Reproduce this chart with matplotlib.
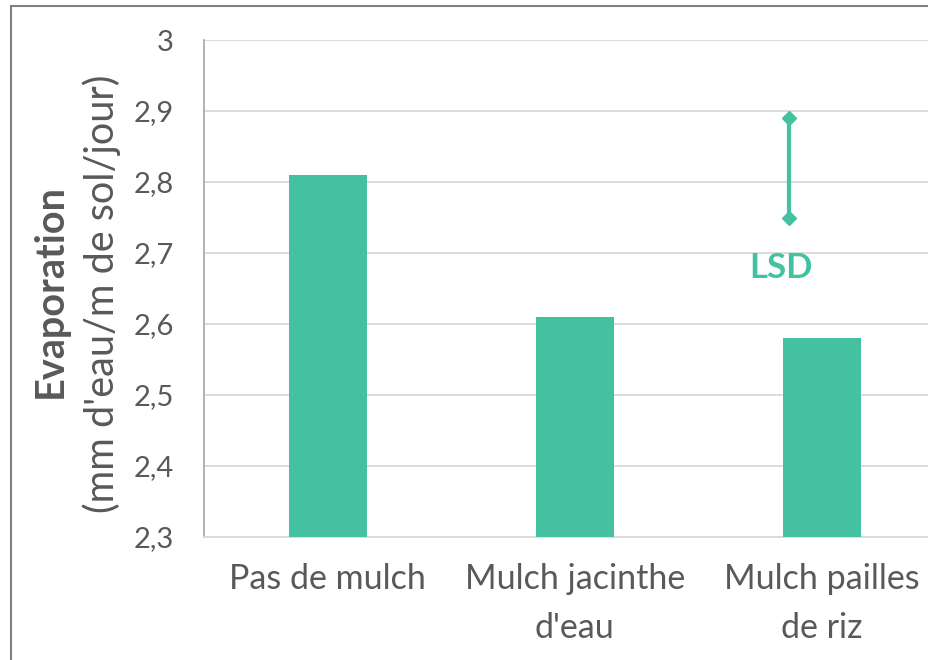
import matplotlib
matplotlib.use("Agg")
import matplotlib.pyplot as plt
from matplotlib.patches import Rectangle
from matplotlib.ticker import FuncFormatter

categories = ["Pas de mulch", "Mulch jacinthe\nd'eau", "Mulch pailles\nde riz"]
values = [2.81, 2.61, 2.58]
lsd_x = 1.87
lsd_low, lsd_high = 2.75, 2.89
yticks = [2.3, 2.4, 2.5, 2.6, 2.7, 2.8, 2.9, 3.0]

teal = "#43C1A0"
txt = "#595959"
plt.rcParams['font.family'] = ['Lato', 'DejaVu Sans']

W, H = 929, 660
fig = plt.figure(figsize=(W/100, H/100), dpi=100)
# frame border (right/bottom fall outside the image)
fig.patches.append(Rectangle((11/W, -0.05), 1.1, 1 - 6/H + 0.05, transform=fig.transFigure,
                             fill=False, edgecolor="#7F7F7F", linewidth=1.5))

ax_left, ax_right = 204.5/W, 945/W
ax_bottom, ax_top = 1 - 537/H, 1 - 40/H
ax = fig.add_axes([ax_left, ax_bottom, ax_right - ax_left, ax_top - ax_bottom])
ax.set_facecolor("none")

x = range(len(categories))
ax.bar(x, values, width=0.316, color=teal, zorder=3)
ax.set_xlim(-0.5, 2.5)
ax.set_ylim(2.3, 3.0)
ax.set_yticks(yticks)
ax.yaxis.set_major_formatter(FuncFormatter(lambda v, p: ("%g" % round(v, 1)).replace(".", ",")))
ax.set_xticks(list(x))
ax.set_xticklabels(categories, linespacing=1.65)
ax.tick_params(axis='y', length=0, pad=22, labelsize=21, labelcolor=txt)
ax.tick_params(axis='x', length=0, pad=19, labelsize=24.5, labelcolor=txt)
ax.grid(axis='y', color="#D9D9D9", linewidth=1.3, zorder=0)
for s in ["top", "right"]:
    ax.spines[s].set_visible(False)
ax.spines["left"].set_color("#A6A6A6")
ax.spines["left"].set_linewidth(1.2)
ax.spines["bottom"].set_color("#D9D9D9")
ax.spines["bottom"].set_linewidth(1.3)

# LSD bar
ax.plot([lsd_x, lsd_x], [lsd_low, lsd_high], color=teal, linewidth=3, marker="D",
        markersize=7, zorder=4)
ax.text(lsd_x - 0.035, 2.679, "LSD", color=teal, fontsize=25, fontweight="bold",
        ha="center", va="center")

# y labels
fig.text(50/W, 1 - 291/H, "Evaporation", rotation=90, fontsize=28.5, fontweight="bold",
         color=txt, ha="center", va="center")
fig.text(102/W, 1 - 294/H, "(mm d'eau/m de sol/jour)", rotation=90, fontsize=28.5,
         color=txt, ha="center", va="center")

fig.savefig("out.png", dpi=100)
